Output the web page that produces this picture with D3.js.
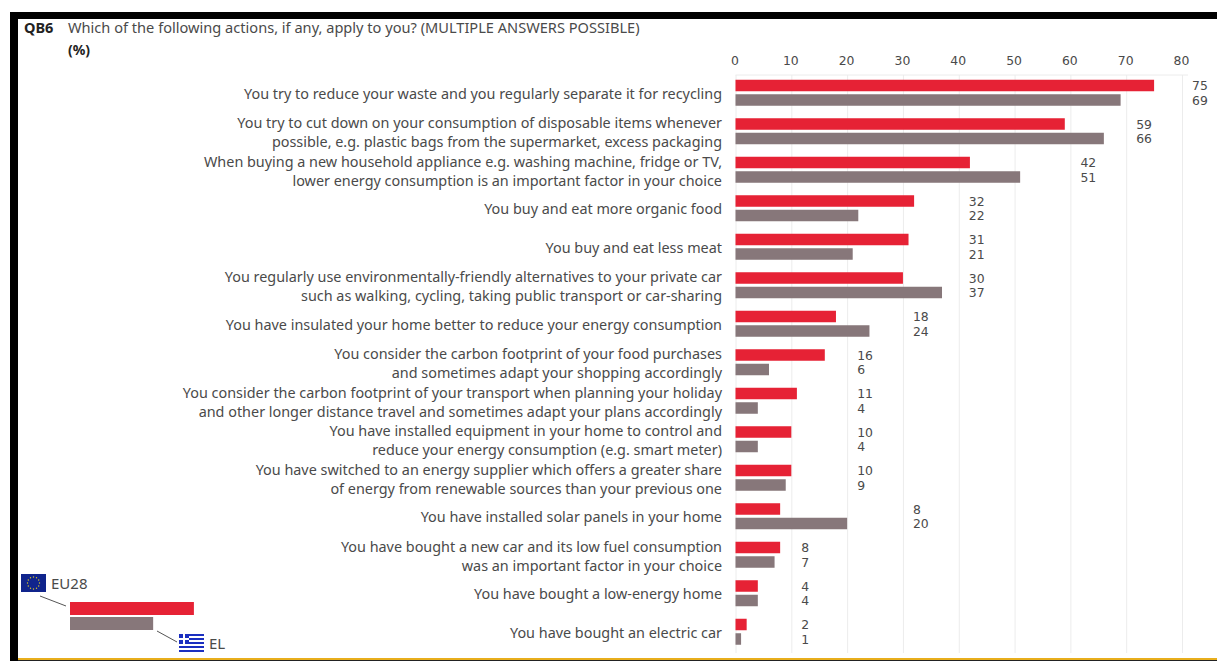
<!DOCTYPE html>
<html>
<head>
<meta charset="utf-8">
<script src="https://cdn.jsdelivr.net/npm/d3@7"></script>
<style>
  html, body { margin: 0; padding: 0; background: #fff; }
  svg { display: block; font-family: "Noto Sans", sans-serif; }
  .tick line { stroke: #ececec; }
</style>
</head>
<body>
<svg width="1217" height="661"></svg>
<script>
// data
const labels = [
  ["You try to reduce your waste and you regularly separate it for recycling"],
  ["You try to cut down on your consumption of disposable items whenever", "possible, e.g. plastic bags from the supermarket, excess packaging"],
  ["When buying a new household appliance e.g. washing machine, fridge or TV,", "lower energy consumption is an important factor in your choice"],
  ["You buy and eat more organic food"],
  ["You buy and eat less meat"],
  ["You regularly use environmentally-friendly alternatives to your private car", "such as walking, cycling, taking public transport or car-sharing"],
  ["You have insulated your home better to reduce your energy consumption"],
  ["You consider the carbon footprint of your food purchases", "and sometimes adapt your shopping accordingly"],
  ["You consider the carbon footprint of your transport when planning your holiday", "and other longer distance travel and sometimes adapt your plans accordingly"],
  ["You have installed equipment in your home to control and", "reduce your energy consumption (e.g. smart meter)"],
  ["You have switched to an energy supplier which offers a greater share", "of energy from renewable sources than your previous one"],
  ["You have installed solar panels in your home"],
  ["You have bought a new car and its low fuel consumption", "was an important factor in your choice"],
  ["You have bought a low-energy home"],
  ["You have bought an electric car"]
];
const eu28 = [75, 59, 42, 32, 31, 30, 18, 16, 11, 10, 10, 8, 8, 4, 2];
const el = [69, 66, 51, 22, 21, 37, 24, 6, 4, 4, 9, 20, 7, 4, 1];
const xTicks = [0, 10, 20, 30, 40, 50, 60, 70, 80];
const legendBars = [22.2, 14.9];

const red = "#e62235", grey = "#87777a", textCol = "#4a4a4a";
const svg = d3.select("svg");

const x = d3.scaleLinear().domain([0, 80]).range([735.5, 1182]);
const y = d3.scaleBand().domain(d3.range(labels.length)).range([73.5, 651]);

// frame
svg.append("rect").attr("x", 10).attr("y", 12).attr("width", 1207).attr("height", 7).attr("fill", "#000");
svg.append("rect").attr("x", 10).attr("y", 12).attr("width", 8).attr("height", 649).attr("fill", "#000");
svg.append("rect").attr("x", 18).attr("y", 658).attr("width", 1199).attr("height", 2).attr("fill", "#e8ae1c");
svg.append("rect").attr("x", 18).attr("y", 660).attr("width", 1199).attr("height", 1).attr("fill", "#222");

// title
svg.append("text").attr("x", 24).attr("y", 33).attr("font-size", 14.5).attr("font-weight", 700).attr("fill", "#222").text("QB6");
svg.append("text").attr("x", 68).attr("y", 33).attr("font-size", 14.6).attr("fill", textCol)
  .text("Which of the following actions, if any, apply to you? (MULTIPLE ANSWERS POSSIBLE)");
svg.append("text").attr("x", 68).attr("y", 55).attr("font-size", 14).attr("font-weight", 700).attr("fill", "#222").text("(%)");

// axis on top, ticks run down as grid lines
const axis = svg.append("g").attr("transform", "translate(0,75)")
  .call(d3.axisTop(x).tickValues(xTicks).tickSize(-578).tickSizeOuter(0).tickPadding(10));
axis.select(".domain").remove();
axis.selectAll("text").attr("font-size", 12.4).attr("fill", textCol).attr("font-family", "'DejaVu Sans', sans-serif").attr("dx", -1);
svg.append("line").attr("x1", x(0)).attr("x2", 1188).attr("y1", 75).attr("y2", 75).attr("stroke", "#ececec");

// rows
const row = svg.selectAll("g.row").data(labels).join("g").attr("class", "row")
  .attr("transform", (d, i) => `translate(0,${y(i) + y.bandwidth() / 2})`);

row.append("rect").attr("x", x(0)).attr("y", -13).attr("height", 11.5)
  .attr("width", (d, i) => x(eu28[i]) - x(0)).attr("fill", red);
row.append("rect").attr("x", x(0)).attr("y", 1.5).attr("height", 11.5)
  .attr("width", (d, i) => x(el[i]) - x(0)).attr("fill", grey);

// value labels start just inside the grid cell after the longest bar
const labelX = i => x((Math.floor(Math.max(eu28[i], el[i]) / 10) + 1) * 10) + 10;
const values = row.append("text").attr("font-size", 12.4).attr("font-family", "'DejaVu Sans', sans-serif").attr("fill", textCol);
values.append("tspan").attr("x", (d, i) => labelX(i)).attr("y", -2.5).text((d, i) => eu28[i]);
values.append("tspan").attr("x", (d, i) => labelX(i)).attr("y", 12).text((d, i) => el[i]);

row.append("text").attr("text-anchor", "end").attr("font-size", 14.4).attr("fill", textCol)
  .selectAll("tspan").data(d => d.map((t, j) => ({ t, j, n: d.length }))).join("tspan")
  .attr("x", 722)
  .attr("y", d => d.n === 1 ? 6 : d.j === 0 ? -3 : 16)
  .text(d => d.t);

// legend
const legend = svg.append("g");
const legendY = [602, 617];
legendBars.forEach((v, i) => {
  legend.append("rect").attr("x", 70).attr("y", legendY[i]).attr("height", 13)
    .attr("width", x(v) - x(0)).attr("fill", i === 0 ? red : grey);
});
legend.append("line").attr("x1", 40).attr("y1", 596).attr("x2", 66).attr("y2", 606).attr("stroke", "#555");
legend.append("line").attr("x1", 157).attr("y1", 631).attr("x2", 177).attr("y2", 642).attr("stroke", "#555");
legend.append("text").attr("x", 51).attr("y", 589).attr("font-size", 15).attr("fill", textCol).text("EU28");
legend.append("text").attr("x", 209).attr("y", 649).attr("font-size", 15).attr("fill", textCol).text("EL");

// EU flag
const eu = legend.append("g").attr("transform", "translate(21,574)");
eu.append("rect").attr("width", 25).attr("height", 18).attr("fill", "#10248c");
eu.selectAll("circle").data(d3.range(12)).join("circle")
  .attr("cx", d => 12.5 + 6 * Math.cos(d * Math.PI / 6))
  .attr("cy", d => 9 + 6 * Math.sin(d * Math.PI / 6))
  .attr("r", 0.7).attr("fill", "#d8c52a");

// Greek flag
const gr = legend.append("g").attr("transform", "translate(179,634)");
gr.append("rect").attr("width", 25).attr("height", 18).attr("fill", "#fff");
gr.selectAll("rect.st").data(d3.range(0, 9, 2)).join("rect").attr("class", "st")
  .attr("y", d => d * 2).attr("width", 25).attr("height", 2).attr("fill", "#1b2fc0");
gr.append("rect").attr("width", 10).attr("height", 10).attr("fill", "#1b2fc0");
gr.append("rect").attr("x", 4).attr("width", 2).attr("height", 10).attr("fill", "#fff");
gr.append("rect").attr("y", 4).attr("width", 10).attr("height", 2).attr("fill", "#fff");
</script>
</body>
</html>
